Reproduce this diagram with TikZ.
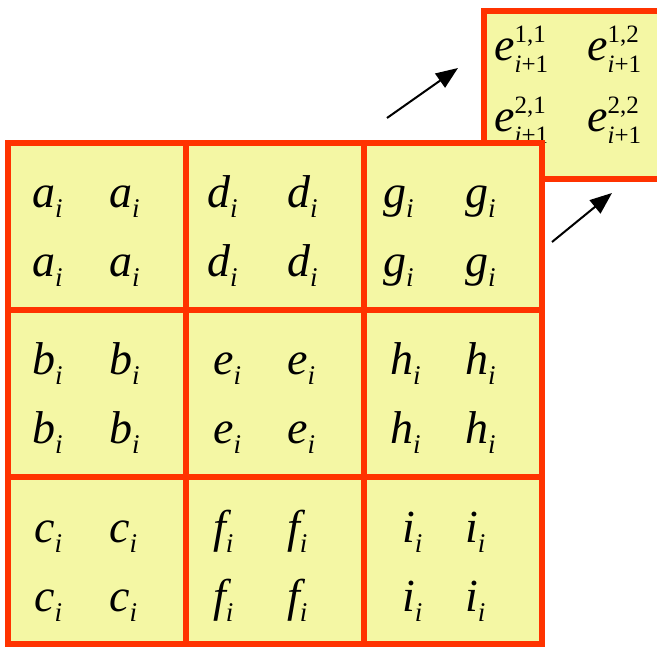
\documentclass[tikz,border=0pt]{standalone}
\usepackage{fontspec}
\setmainfont{Liberation Serif}
\usetikzlibrary{arrows.meta}
\definecolor{cellred}{HTML}{FF3300}
\definecolor{cellfill}{HTML}{F4F7A4}
\tikzset{
  cellbox/.style={draw=cellred,fill=cellfill,line width=6pt,minimum width=178pt,minimum height=167pt,inner sep=0pt,outer sep=0pt,anchor=north west},
  sym/.style={anchor=base west,inner sep=0pt,font=\fontsize{46}{46}\selectfont\itshape},
  link/.style={line width=2pt,-{Triangle[length=22pt,width=17pt]}}
}
\newcommand{\withi}[1]{#1\raisebox{-10pt}{\fontsize{27}{27}\selectfont i}}
\newcommand{\nexte}[1]{e\rlap{\raisebox{18pt}{\fontsize{25}{25}\selectfont\upshape #1}}\raisebox{-12pt}{\fontsize{25}{25}\selectfont i\upshape+1}}
\begin{document}
\begin{tikzpicture}[x=1pt,y=-1pt]
\useasboundingbox (0,0) rectangle (657,647);
\clip (0,0) rectangle (657,647);
% next step block, partly under the grid
\node[cellbox,minimum width=216.5pt,minimum height=168.5pt] (next) at (483.5,11) {};
\node[sym] (e11) at (494,61) {\nexte{1,1}};
\node[sym] (e12) at (587,61) {\nexte{1,2}};
\node[sym] (e21) at (494,132) {\nexte{2,1}};
\node[sym] (e22) at (587,132) {\nexte{2,2}};
% 3x3 grid of blocks
\foreach \col/\row/\name/\dx in {0/0/a/24,0/1/b/24,0/2/c/26,1/0/d/21,1/1/e/27,1/2/f/27,2/0/g/19,2/1/h/26,2/2/i/38}{
  \node[cellbox] (\name) at ({8+178*\col},{143+167*\row}) {};
  \node[sym] (\name11) at ({8+178*\col+\dx},{143+167*\row+65}) {\withi{\name}};
  \node[sym] (\name12) at ({8+178*\col+101},{143+167*\row+65}) {\withi{\name}};
  \node[sym] (\name21) at ({8+178*\col+\dx},{143+167*\row+134}) {\withi{\name}};
  \node[sym] (\name22) at ({8+178*\col+101},{143+167*\row+134}) {\withi{\name}};
}
% arrows
\coordinate (lead1) at (387,118);
\coordinate (tip1) at (458,68);
\coordinate (lead2) at (552,242);
\coordinate (tip2) at (612,193);
\draw[link] (lead1) -- (tip1);
\draw[link] (lead2) -- (tip2);
\end{tikzpicture}
\end{document}
